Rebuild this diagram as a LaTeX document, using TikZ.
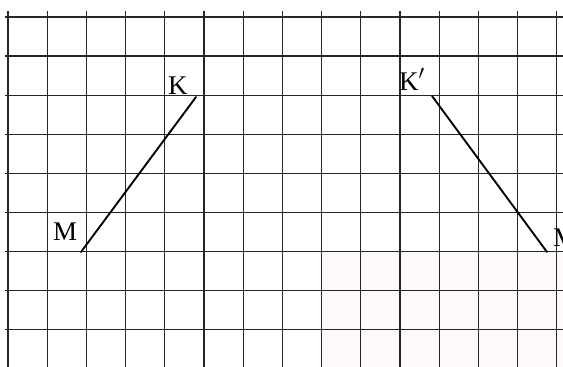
\documentclass[tikz,border=0pt]{standalone}
\usepackage{fontspec}
\setmainfont{Liberation Serif}
\begin{document}
\begin{tikzpicture}[
  x=0.03cm, y=-0.03cm,
  gridline/.style={draw=black!85, line width=1.1pt},
  seg/.style={line width=1.6pt, line cap=round},
  lbl/.style={font=\fontsize{23}{26}\selectfont, inner sep=0pt, anchor=base west}
]
  \useasboundingbox (0,0) rectangle (563,367);
  \clip (0,0) rectangle (563,367);
  \fill[red!2] (322,252) rectangle (563,367);
  % grid
  \foreach \i in {0,...,14}
    \draw[gridline] ({8+39.2*\i},11) -- ({8+39.2*\i},367);
  \foreach \j in {0,...,8}
    \draw[gridline] (5,{17+39.1*\j}) -- (563,{17+39.1*\j});
  % segment KM and its image
  \coordinate (k) at (196,97);
  \coordinate (m) at (81,252);
  \coordinate (k2) at (432,96);
  \coordinate (m2) at (547,252);
  \draw[seg] (m) -- (k);
  \draw[seg] (k2) -- (m2);
  \node[lbl] (klbl) at (168,94) {K};
  \node[lbl] (mlbl) at (53,240) {M};
  \node[lbl] (k2lbl) at (399,90) {K$'$};
  \node[lbl] (m2lbl) at (553,246) {M$'$};
\end{tikzpicture}
\end{document}
